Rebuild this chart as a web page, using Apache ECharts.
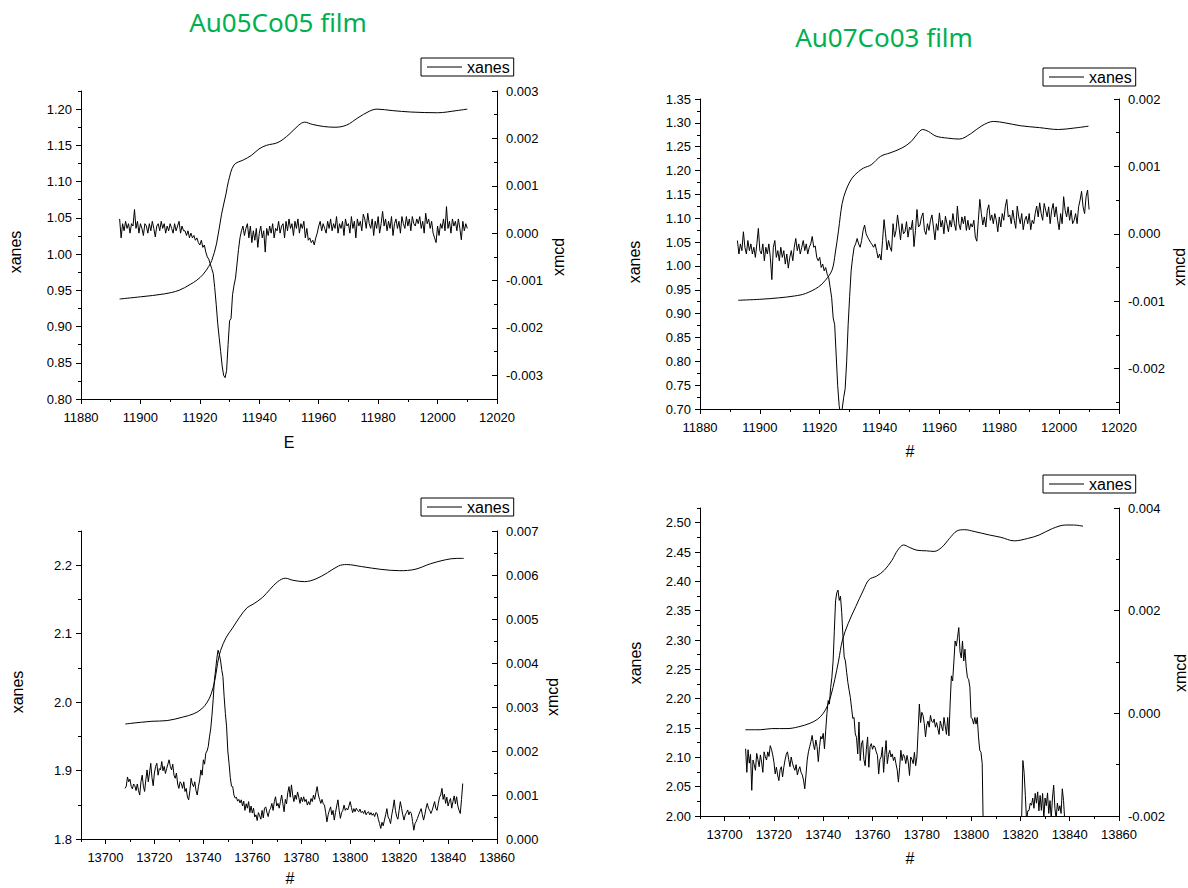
<!DOCTYPE html>
<html>
<head>
<meta charset="utf-8">
<script src="https://cdn.jsdelivr.net/npm/echarts@6.0.0/dist/echarts.min.js"></script>
<style>
html, body { margin: 0; padding: 0; background: #fff; }
#main { width: 1188px; height: 888px; }
</style>
</head>
<body>
<div id="main"></div>
<script>
// xmcd arrays are stored in units of 1e-4, on a 0.5 eV grid starting at *Start
const XMCD_UNIT = 1e-4;
const STEP = 0.5;

// ---- Au05Co05, 11.9 keV edge
const p1XanesE = [11893, 11900, 11908, 11913, 11916.7, 11919, 11921.1, 11923, 11924, 11925.6, 11927.3, 11928.8, 11929.6, 11931.5, 11934.7, 11937.3, 11939.9, 11942.4, 11946.3, 11950, 11953.3, 11955.3, 11957.8, 11961.7, 11965.5, 11969.4, 11973.2, 11977, 11979.6, 11984.7, 11991, 12000, 12006.5, 12010];
const p1XanesV = [0.938, 0.941, 0.945, 0.950, 0.958, 0.964, 0.972, 0.983, 0.991, 1.014, 1.055, 1.083, 1.100, 1.123, 1.130, 1.136, 1.145, 1.150, 1.154, 1.165, 1.178, 1.182, 1.179, 1.176, 1.175, 1.178, 1.188, 1.197, 1.200, 1.198, 1.196, 1.195, 1.198, 1.200];
const p1XmcdStart = 11893;
const p1Xmcd = [
  3, -1, 2, 0.5, 2.5, 1, 2, 0, 2, 1.5, 5, 1, 2.5, 0, 2, 1, -0.5, 2, 1.5, 0,
  2, 0.5, 2.5, 1, -0.8, 1.5, 2, 0.5, 2.5, 1, 2, 0, 1.5, 0.5, 2, 1, 0, 2, 0.5, 1.5,
  2.5, 0, 1.5, 0.5,
  0.5, -0.5, 0.5, -1, 0, -1, -0.5, -1.5, -1, -2, -2.5, -1.5, -3, -2.5, -4, -5, -5.5, -6.5,
  -7.5, -8.5, -11.5, -15, -19, -22, -25, -28, -30, -30.5, -29, -23.5, -18.5, -18, -13, -11, -9.5, -6.5, -3.5, -1,
  0.5, 1.5, -0.5, 1, 2, -1,
  1.5, -2, 0.5, -1.5, 1, -3, 0, 1.5, -1, 0.5, -4, 1, -0.5, 1.5, 0, 2, -1, 1, 0.5, 2.5,
  0, 1.5, 2, -1, 2.5, 0.5, 3, 1, 2, -0.5, 2.5, 1, 3, 0, 2, 1, 2.5, -1, 1, -1.5,
  -1, -2, -1.5, -2.5, -1, 0, 1.5, 2.5, 0.5, 2, 1,
  0, 2.5, 1, 3, 0.5, 2, 1, 3.5, 0, 2, 1, 2.5, -0.5, 3, 1.5, 2, 0, 3.5, 1, 2.5,
  -1, 3, 1.5, 2.5, 0.5, 4, 3, 1, 4.2, 2, 1, 3, -0.5, 2.5, 1, 3.5, 0, 2, 4.6, 1.5,
  3, 0.5, 2.5, 1, 3.5, -0.5, 2, 3, 1, 2.5, 0, 3.5, 2, 1, 3.5, 1.5, 3, 0.5, 3.5, 2,
  1.5, 3, 2, 3.5, 1, 2.5, 0, 4.2, 2, 3, 1, 2.5, 0, -1, -2, 1.5, -0.5, 2, 1, 3,
  0.5, 5.6, 1, 2.5, 0, 3, 1.5, 2.5, 0.5, 3, 1, -1.4, 2.5, 0.5, 2, 1
];

// ---- Au07Co03, 11.9 keV edge
const p2XanesE = [11892.8, 11900, 11906.2, 11911.6, 11915.2, 11919.6, 11921.9, 11924.1, 11925.2, 11926.3, 11927.5, 11928.8, 11930.8, 11933, 11934.6, 11937.2, 11940.4, 11943.5, 11947.4, 11950.6, 11952.5, 11954.4, 11956.3, 11958.9, 11962.7, 11966.6, 11970.4, 11974.2, 11978.1, 11981.9, 11987, 11993.4, 11999.8, 12004.9, 12009.8];
const p2XanesV = [0.928, 0.930, 0.933, 0.937, 0.942, 0.956, 0.970, 0.991, 1.027, 1.075, 1.131, 1.159, 1.184, 1.198, 1.205, 1.212, 1.230, 1.237, 1.247, 1.261, 1.276, 1.286, 1.282, 1.272, 1.268, 1.266, 1.277, 1.294, 1.303, 1.300, 1.294, 1.290, 1.286, 1.289, 1.293];
const p2XmcdStart = 11892.5;
const p2Xmcd = [
  -1, -3, -1.5, -2.5, 0.3, -2, -3, -1, -2.5, -1.5, -3, -2, -3.5, -1.5, 0.8, -2.5, -3, -1.5, -4, -2,
  -3, -1.5, -3.5, -6.8, -2, -1, -3.5, -2.5, -4, -2, -3.5, -2.5, -4.5, -3, -5.1, -3.5, -2.5, -4, -2, -0.7,
  -2.5, -1.5, -3, -2, -1, -2.5, -1.5, -3, -2, -1.5, -0.4, -2, -1.8,
  -3.5, -4, -3.5, -5, -4.5, -5.5, -5, -6, -6.5, -8, -9.5, -12.5, -13.5, -18, -22.5, -25.5, -27, -26, -24.3, -23,
  -19, -13.5, -9.3, -5.5, -3.5, -2, -1.5, -0.7, -1.5, -2, -1, 0.5, 1.3, 0, -0.5,
  -0.9, -1.3, -1.6, -2, -1.5, -2.5, -3.6, -3, -3.9, -1, 2.1, 0, -2.4, -1, -2, -2.6, 1.5, -0.5, 0.5, 2.8,
  1, -0.9, 1.5, 0, 0.3, 1.8, -0.5, 1, 0.6, 2, -1.9, 0.5, 3.6, 1, 1.3, 2.5, 3.1, 0.5, -0.1, 1.5,
  0.5, 2, 2.8, 1, -0.9, 1.5, 0.5, 3.1, 1, 2, 0, 2.6, 1.5, 0.3, 2, 1, 3, 1.5, 0.5, 4.1,
  1.5, 0.6, 2.5, 1.5, 2.6, 0.5, 2, 0.6, 1.5, 1, 2, -0.5, -1.1, 2, 5.1, 3, 1.3, 2.5, 1, 3.5,
  4.3, 2, 2.8, 1.5, 3, 2, 0.3, 2.5, 1, 3, 2, 4, 5.1, 2.5, 2.8, 1.5, 3.5, 2, 0.8, 4.1,
  2.5, 1.5, 3, 0.6, 2, 2.6, 1.5, 3, 0.6, 2, 1.5, 3, 4.1, 2.5, 4.6,
  3, 2, 4.5, 3.5, 2.5, 4, 1.5, 3.5, 4.5, 2.5, 4, 2, 0.6, 3, 1.5, 5.5, 3.5, 2.5,
  4, 2, 3.5, 1.5, 2, 3, 1.5, 4, 5, 6.3, 4, 3, 5.5, 6.5, 3.6
];

// ---- Au05Co05, 13.7 keV edge
const p3XanesE = [13708.1, 13710.4, 13719, 13725.2, 13731.5, 13736.1, 13739.3, 13741.6, 13743.2, 13744.7, 13745.8, 13747, 13749.4, 13751.7, 13754.8, 13757.9, 13760.3, 13764.2, 13767.3, 13770.4, 13773.5, 13776.6, 13781.3, 13786, 13790.7, 13795.3, 13798.5, 13804.7, 13812.5, 13820.3, 13826.5, 13832.7, 13839, 13843.6, 13846.4];
const p3XanesV = [1.968, 1.969, 1.972, 1.973, 1.978, 1.983, 1.990, 2.000, 2.012, 2.032, 2.056, 2.075, 2.095, 2.107, 2.124, 2.138, 2.143, 2.153, 2.165, 2.176, 2.181, 2.178, 2.176, 2.180, 2.189, 2.199, 2.201, 2.198, 2.194, 2.192, 2.194, 2.202, 2.208, 2.210, 2.210];
const p3XmcdStart = 13708;
const p3Xmcd = [
  11.5, 12, 14.1, 13, 13.6, 12, 11.4, 12.5, 12.1, 11, 12.5, 11, 10, 13, 14.5, 12, 10.8, 13.5, 15.7, 13,
  15, 17.2, 14, 12.1, 15, 16.5, 17.2, 14.5, 16, 15.7, 17.6, 15.5, 16.5, 14.9, 16, 17, 18, 16.5, 15.7, 17,
  14.5, 13.8, 15, 12.5, 11.5, 13, 12.6, 11.5, 13, 10.8, 11.5, 9.5, 8.9, 11, 13.8, 12.5, 11.9, 13, 11, 10,
  12, 13.4, 15.7, 14.5, 18,
  17, 19.5, 20, 21, 23.2, 25, 28, 31.6, 36, 38.4, 41, 42.9, 42, 40.7, 38.5, 36.9, 32.3, 28.5, 25.5, 20,
  17.2, 14, 12, 11.9, 10, 9.3, 9.5, 8.6, 9, 8.2,
  8.9, 7.5, 8.6, 6.5, 8, 7, 8.5, 6, 7.5, 5.9, 7, 5, 5.5, 4.2, 6, 5.3, 4.5, 6.5, 4.8, 7,
  7.3, 6, 5.1, 6.5, 7, 8.1, 6.5, 8.5, 9.6, 7.5, 8.1, 7, 8.5, 10, 8, 6.2, 9, 8, 10.5, 11.9,
  9.5, 12.3, 10, 8.5, 10, 9, 10.7, 9.5, 8.1, 9.5, 8.5, 9.6, 8.5, 9, 7.7, 8.5, 7.8, 9.2, 8.5, 10,
  9, 10.5, 11.9, 10, 9, 8.1, 9, 8, 7.7, 6, 3.9, 5.5, 6.5, 7.3, 5.5, 6.5, 4.3, 6, 7.5, 8.9,
  6.5, 4.7, 6, 6.5, 7.7, 6.5, 7, 6.6, 7.5, 8.5, 7.2, 6, 6.9, 6.2, 7, 6.5, 6.2, 6.8, 6, 6.3,
  5.8, 6.5, 5.5, 6, 6.2, 5.5, 6, 5.4, 5.8, 5.1, 6, 5.8, 4.5, 3.5, 2.4, 3.8, 3, 4.3, 5.5, 6.9,
  5, 4.5, 3.5, 5.5, 7, 8.9, 6.5, 5.1, 4.5, 6.5, 8.5, 7, 5.5, 4.3, 5.5, 6, 6.6, 5.5, 6.2, 5.8,
  4, 2, 3.5, 4, 4.7, 5.5, 6.2, 6.9, 5.5, 4.3, 5.5, 7, 8.1, 7, 6.5, 5.8, 6.5, 7.5, 8.5, 7,
  6.5, 8, 9.5, 10, 11.5, 9, 10.2, 8.1, 9.5, 7.5, 8.5, 9.2, 7, 8.5, 9.8, 8, 9.6, 7.5, 6.5, 5.8,
  9, 12.6
];

// ---- Au07Co03, 13.7 keV edge (xmcd leaves the plot below -0.002 between the two parts)
const p4XanesE = [13708.4, 13714.4, 13719.1, 13725.3, 13730, 13734.6, 13737.7, 13740, 13741.6, 13743.1, 13744.7, 13746.2, 13747.8, 13750.1, 13753.2, 13756.3, 13758.6, 13761.7, 13764.8, 13767.9, 13770.2, 13772.6, 13774.9, 13778, 13781.9, 13785, 13788.1, 13791.2, 13794.3, 13797.4, 13801.2, 13807.4, 13812.1, 13817.5, 13822.9, 13827.6, 13833, 13838.4, 13841.5, 13845.4];
const p4XanesV = [2.147, 2.147, 2.149, 2.149, 2.152, 2.158, 2.165, 2.175, 2.187, 2.205, 2.233, 2.264, 2.300, 2.328, 2.357, 2.385, 2.403, 2.409, 2.419, 2.436, 2.453, 2.462, 2.458, 2.453, 2.452, 2.451, 2.458, 2.473, 2.486, 2.488, 2.485, 2.479, 2.475, 2.469, 2.473, 2.479, 2.490, 2.496, 2.496, 2.494];
const p4XmcdStartA = 13708.5;
const p4XmcdA = [
  -6.9, -11.5, -7.1, -9.7, -8, -15, -9.1, -10, -11.1, -7.8, -9, -10.4, -8.1, -9.5, -11.5, -7.5, -8.5, -9.1, -7.5, -8.4,
  -6.3, -7, -8.1, -9.5, -11.8, -10.5, -12, -13.1, -11, -10.4, -12.4, -10.5, -9.1, -8, -7.5, -9, -10.4, -8.5, -9.7, -10.5,
  -11.1, -10, -12, -11, -10.4, -11.5, -12, -13, -14.7, -12, -9.1, -7.5, -6.5, -5.5, -4.3, -6, -7.1, -5.2, -6.5, -9.4,
  -6.5, -4.5, -5, -3.9, -6.9, -3.4,
  0, 2.5, 1.8, 5, 7, 10.2, 16, 21.9, 23.5, 24, 22, 22.8, 19.6, 15, 11, 10.2, 8, 6, 4.5, 3.1,
  1, -1, -0.8, -4, -4.7,
  -7.9, -1.7, -9.2, -6, -5.3, -9, -10.2, -7, -4.6, -10.5, -6.5, -5.9, -7, -6.3, -6.6, -7.5, -8.2, -11.8, -9, -8.5,
  -6.6, -11.5, -8, -5.3, -9.8, -8, -7.2, -8.5, -7.9, -9.2, -8.5, -9.8, -11, -13.4, -10.5, -7.2, -9.2, -8, -8.5, -9.8,
  -8.2, -9.5, -12.1, -8.5, -9, -9.8, -7.6, -10.2, -8.5,
  -3.4, 1.8, -1.8, 0.2, -0.4, -2, -4.6, -2.3, -1.5, -2.7, -0.4, -1.5, -1.8, -1.1, -2.7, -1.8, -3, -4.1, -1.5, -2.5,
  -3.4, -0.8, -2.5, -4.1, -0.8, -4.4,
  2, 7.3, 6.3, 10, 14.1, 13.1, 14.8, 16.7, 12, 10.8, 14.1, 10.2, 12.5, 9, 7, 6.6, 5.1, -0.8, -1.1, -2.1,
  -0.8, -2.1, -0.8, -4.6, -7.2, -7.6, -9.8, -25
];
const p4XmcdStartB = 13820.5;
const p4XmcdB = [
  -20.5, -9.2, -11.5, -16, -21, -19, -18.9, -17.5, -17.9, -16.5, -18.5, -15.6, -17.5, -15.3, -19, -16, -18.9, -15.6, -20.5, -16.5,
  -18, -15.5, -19.5, -17, -20.5, -16.5, -14, -18.5, -20.5, -17.5, -19, -18, -19.5, -14.7, -17, -21
];

// tick values
const lowXTicks = [11880, 11900, 11920, 11940, 11960, 11980, 12000, 12020];
const highXTicks = [13700, 13720, 13740, 13760, 13780, 13800, 13820, 13840, 13860];
const p1LeftTicks = [0.80, 0.85, 0.90, 0.95, 1.00, 1.05, 1.10, 1.15, 1.20];
const p1RightTicks = [-0.003, -0.002, -0.001, 0, 0.001, 0.002, 0.003];
const p2LeftTicks = [0.70, 0.75, 0.80, 0.85, 0.90, 0.95, 1.00, 1.05, 1.10, 1.15, 1.20, 1.25, 1.30, 1.35];
const p2RightTicks = [-0.002, -0.001, 0, 0.001, 0.002];
const p3LeftTicks = [1.8, 1.9, 2.0, 2.1, 2.2];
const p3RightTicks = [0, 0.001, 0.002, 0.003, 0.004, 0.005, 0.006, 0.007];
const p4LeftTicks = [2.00, 2.05, 2.10, 2.15, 2.20, 2.25, 2.30, 2.35, 2.40, 2.45, 2.50];
const p4RightTicks = [-0.002, 0, 0.002, 0.004];

const FONT = 'Liberation Sans';

function pairs(xs, ys) {
  return xs.map((x, i) => [x, ys[i]]);
}
function gridded(start, vals) {
  return vals.map((v, i) => [start + i * STEP, v * XMCD_UNIT]);
}
function minorsOf(majors, min, max) {
  const half = (majors[1] - majors[0]) / 2;
  const out = [];
  const eps = 1e-9;
  if (majors[0] - half >= min - eps) out.push(majors[0] - half);
  for (let i = 0; i < majors.length - 1; i++) out.push((majors[i] + majors[i + 1]) / 2);
  const last = majors[majors.length - 1] + half;
  if (last <= max + eps) out.push(last);
  return out;
}

const panels = [
  {
    grid: { left: 81, top: 91, width: 416, height: 308 },
    x: [11880, 12020, lowXTicks], yl: [0.80, 1.225, p1LeftTicks, 2], yr: [-0.0035, 0.003, p1RightTicks, 3],
    xanes: pairs(p1XanesE, p1XanesV), xmcd: [gridded(p1XmcdStart, p1Xmcd)],
    legend: [421, 58], xName: ['E', 289, 442], yName: [15, 252], rName: [558, 257]
  },
  {
    grid: { left: 700, top: 99, width: 419, height: 310 },
    x: [11880, 12020, lowXTicks], yl: [0.70, 1.35, p2LeftTicks, 2], yr: [-0.0026, 0.002, p2RightTicks, 3],
    xanes: pairs(p2XanesE, p2XanesV), xmcd: [gridded(p2XmcdStart, p2Xmcd)],
    legend: [1043, 68], xName: ['#', 910, 451], yName: [634, 262], rName: [1179, 267]
  },
  {
    grid: { left: 81, top: 531, width: 416, height: 308 },
    x: [13690, 13860, highXTicks], yl: [1.8, 2.25, p3LeftTicks, 1], yr: [0, 0.007, p3RightTicks, 3],
    xanes: pairs(p3XanesE, p3XanesV), xmcd: [gridded(p3XmcdStart, p3Xmcd)],
    legend: [421, 498], xName: ['#', 290, 878], yName: [17, 692], rName: [552, 697]
  },
  {
    grid: { left: 700, top: 508, width: 419, height: 308 },
    x: [13690, 13860, highXTicks], yl: [2.00, 2.525, p4LeftTicks, 2], yr: [-0.002, 0.004, p4RightTicks, 3],
    xanes: pairs(p4XanesE, p4XanesV), xmcd: [gridded(p4XmcdStartA, p4XmcdA), gridded(p4XmcdStartB, p4XmcdB)],
    legend: [1043, 475], xName: ['#', 910, 858], yName: [635, 663], rName: [1180, 673]
  }
];

const black = '#000';
const option = {
  animation: false,
  backgroundColor: '#fff',
  grid: [], xAxis: [], yAxis: [], series: [], legend: [], graphic: []
};

function axisPair(kind, g, min, max, ticks, dec, position, inside) {
  const main = {
    type: 'value', gridIndex: g, min: min, max: max, position: position,
    axisLine: { show: true, onZero: false, lineStyle: { color: black, width: 1 } },
    axisTick: { customValues: ticks, length: 5, inside: inside, lineStyle: { color: black, width: 1 } },
    axisLabel: {
      customValues: ticks, color: black, fontSize: 13, fontFamily: FONT, margin: kind === 'x' ? 12 : 9,
      formatter: v => dec === 0 ? String(Math.round(v)) : v.toFixed(dec)
    },
    splitLine: { show: false }
  };
  const minor = {
    type: 'value', gridIndex: g, min: min, max: max, position: position,
    axisLine: { show: false, onZero: false },
    axisTick: { customValues: minorsOf(ticks, min, max), length: 3, inside: inside, lineStyle: { color: black, width: 1 } },
    axisLabel: { show: false },
    splitLine: { show: false }
  };
  return [main, minor];
}

function vText(x, y, text) {
  return {
    type: 'text', x: x, y: y, rotation: Math.PI / 2,
    style: { text: text, font: '16px "' + FONT + '"', fill: black, textAlign: 'center', textVerticalAlign: 'middle' }
  };
}

panels.forEach((p, i) => {
  option.grid.push(Object.assign({ containLabel: false }, p.grid));
  option.xAxis.push(...axisPair('x', i, p.x[0], p.x[1], p.x[2], 0, 'bottom', false));
  option.yAxis.push(...axisPair('y', i, p.yl[0], p.yl[1], p.yl[2], p.yl[3], 'left', false));
  option.yAxis.push(...axisPair('y', i, p.yr[0], p.yr[1], p.yr[2], p.yr[3], 'right', true));
  option.series.push({
    name: 'xanes', type: 'line', xAxisIndex: 2 * i, yAxisIndex: 4 * i,
    data: p.xanes, showSymbol: false, smooth: 0.35,
    lineStyle: { color: black, width: 1 }, itemStyle: { color: black }
  });
  p.xmcd.forEach(d => {
    option.series.push({
      name: 'xmcd', type: 'line', xAxisIndex: 2 * i, yAxisIndex: 4 * i + 2,
      data: d, showSymbol: false,
      lineStyle: { color: black, width: 1 }, itemStyle: { color: black }
    });
  });
  option.legend.push({
    left: p.legend[0], top: p.legend[1],
    data: [{ name: 'xanes', icon: 'rect' }],
    itemWidth: 35, itemHeight: 1, itemGap: 5,
    padding: [1, 4, 1, 6],
    borderColor: black, borderWidth: 1, borderRadius: 0,
    selectedMode: false,
    itemStyle: { color: black },
    textStyle: { color: black, fontSize: 16, fontFamily: FONT }
  });
  option.graphic.push({
    type: 'text', x: p.xName[1], y: p.xName[2],
    style: { text: p.xName[0], font: '16px "' + FONT + '"', fill: black, textAlign: 'center', textVerticalAlign: 'middle' }
  });
  option.graphic.push(vText(p.yName[0], p.yName[1], 'xanes'));
  option.graphic.push(vText(p.rName[0], p.rName[1], 'xmcd'));
});

option.graphic.push({
  type: 'text', x: 278, y: 22,
  style: { text: 'Au05Co05 film', font: '26px "Noto Sans"', fill: '#00B050', textAlign: 'center', textVerticalAlign: 'middle' }
});
option.graphic.push({
  type: 'text', x: 884, y: 37,
  style: { text: 'Au07Co03 film', font: '26px "Noto Sans"', fill: '#00B050', textAlign: 'center', textVerticalAlign: 'middle' }
});

const chart = echarts.init(document.getElementById('main'), null, { renderer: 'svg' });
chart.setOption(option);
</script>
</body>
</html>
